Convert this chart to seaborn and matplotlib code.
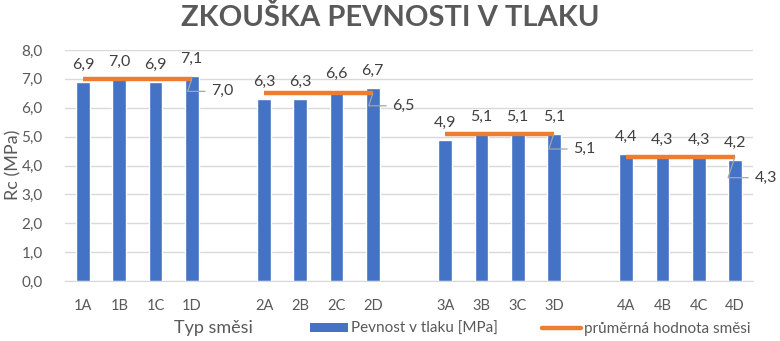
import matplotlib
matplotlib.use("Agg")
import matplotlib.pyplot as plt
from matplotlib.patches import Patch
from matplotlib.lines import Line2D
import seaborn as sns
import pandas as pd

# Data
skupiny = ["1", "2", "3", "4"]
vzorky = ["A", "B", "C", "D"]
pevnost = [6.9, 7.0, 6.9, 7.1,
           6.3, 6.3, 6.6, 6.7,
           4.9, 5.1, 5.1, 5.1,
           4.4, 4.3, 4.3, 4.2]
prumer = [7.0, 6.5, 5.1, 4.3]

typy = [g + v for g in skupiny for v in vzorky]
df = pd.DataFrame({"typ": typy, "pevnost": pevnost})

# Category order with an empty slot between groups
poradi = []
for i, g in enumerate(skupiny):
    poradi += [g + v for v in vzorky]
    if i < len(skupiny) - 1:
        poradi.append(" " * (i + 1))

sns.set_style("white")
font = "Lato"
plt.rcParams["font.family"] = [font, "DejaVu Sans"]

MODRA = "#4472C4"
ORANZOVA = "#ED7D31"
SEDA_TEXT = "#595959"
TMAVA_TEXT = "#404040"
MRIZKA = "#D9D9D9"

fig = plt.figure(figsize=(7.8, 3.41), dpi=100)
ax = fig.add_axes([65 / 780, 1 - 281 / 341, 688 / 780, 231 / 341])

sns.barplot(data=df, x="typ", y="pevnost", order=poradi, color=MODRA,
            saturation=1, width=0.38, errorbar=None, ax=ax, zorder=2)

# Value labels above bars
for cont in ax.containers:
    labels = []
    for b in cont:
        h = b.get_height()
        labels.append("" if pd.isna(h) or h == 0 else f"{h:.1f}".replace(".", ","))
    ax.bar_label(cont, labels=labels, padding=7, fontsize=11.5, color=TMAVA_TEXT)

# Group averages with leader-line labels
posun_y = [9, 9, 11, 15]
for i, g in enumerate(skupiny):
    x0 = poradi.index(g + vzorky[0])
    x1 = poradi.index(g + vzorky[-1])
    m = prumer[i]
    ax.plot([x0, x1], [m, m], color=ORANZOVA, lw=3.2, solid_capstyle="butt", zorder=3)
    ax.annotate(f"{m:.1f}".replace(".", ","), xy=(x1, m),
                xytext=(14, -posun_y[i]), textcoords="offset points",
                ha="left", va="center", fontsize=11.5, color=TMAVA_TEXT,
                arrowprops=dict(arrowstyle="-", color="#A6A6A6", lw=0.9,
                                shrinkA=2, shrinkB=0,
                                connectionstyle="angle,angleA=0,angleB=72,rad=0"),
                zorder=4)

ax.set_ylim(0, 8)
ax.set_xlim(-0.5, len(poradi) - 0.5)
ax.set_yticks([i for i in range(9)])
ax.set_yticklabels([f"{i:.1f}".replace(".", ",") for i in range(9)])
ax.set_xticks(range(len(poradi)))
ax.set_xticklabels(poradi)
ax.grid(axis="y", color=MRIZKA, lw=1, zorder=0)
ax.grid(axis="x", visible=False)
for s in ["top", "right", "left"]:
    ax.spines[s].set_visible(False)
ax.spines["bottom"].set_color(MRIZKA)
ax.tick_params(axis="both", length=0, labelcolor=SEDA_TEXT)
ax.tick_params(axis="x", pad=13, labelsize=10.5)
ax.tick_params(axis="y", pad=16, labelsize=11)

ax.set_xlabel("Typ směsi", fontsize=13, color=SEDA_TEXT)
ax.xaxis.set_label_coords((213 - 65) / 688, (281 - 320) / 231)
ax.set_ylabel("Rc (MPa)", fontsize=13, color=SEDA_TEXT)
ax.yaxis.set_label_coords((21 - 65) / 688, (281 - 165) / 231)

fig.text(0.5, 1 - 17 / 341, "ZKOUŠKA PEVNOSTI V TLAKU", ha="center", va="center",
         fontsize=21, fontweight="bold", color=SEDA_TEXT)

handles = [Patch(facecolor=MODRA, edgecolor="none"),
           Line2D([0], [0], color=ORANZOVA, lw=3.2)]
fig.legend(handles, ["Pevnost v tlaku [MPa]", "průměrná hodnota směsi"],
           loc="center left", bbox_to_anchor=(307 / 780, 1 - 329 / 341), ncol=2,
           frameon=False, fontsize=11, labelcolor=SEDA_TEXT,
           handlelength=2.5, handleheight=0.55, handletextpad=0.2,
           columnspacing=2.9, borderaxespad=0, borderpad=0.2)

fig.savefig("out.png", dpi=100)
